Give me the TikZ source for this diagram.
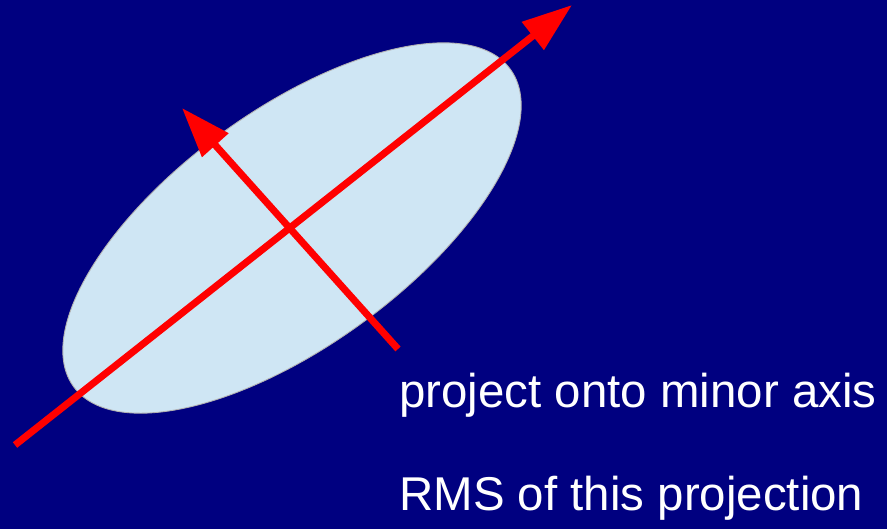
\documentclass[tikz,border=0pt]{standalone}
\usepackage{fontspec}
\setmainfont{Liberation Sans}
\usepackage{xcolor}
\usetikzlibrary{arrows.meta,shapes.geometric}
\definecolor{navybg}{HTML}{000080}
\definecolor{cloudfill}{HTML}{CFE6F4}
\definecolor{axisred}{HTML}{FF0000}

\begin{document}
\begin{tikzpicture}[
  x=0.02cm, y=-0.02cm,
  blob/.style={ellipse, draw=gray!60, fill=cloudfill, line width=0.5pt, minimum width=10.8cm, minimum height=4.72cm, inner sep=0pt},
  axisarr/.style={-{Triangle[length=1cm, width=0.68cm]}, axisred, line width=4pt},
  caption/.style={anchor=base west, inner sep=0pt, text=white, font=\fontsize{27}{32}\selectfont}
]
\fill[navybg] (0,0) rectangle (887,529);
\useasboundingbox (0,0) rectangle (887,529);

\node[blob, rotate=36] (cloud) at (292,228) {};

\coordinate (majtail) at (15,445);
\coordinate (majtip) at (572,5);
\coordinate (mintail) at (398,349);
\coordinate (mintip) at (182,108);

\draw[axisarr] (mintail) -- (mintip);
\draw[axisarr] (majtail) -- (majtip);

\node[caption] (proj) at (399,407) {project onto minor axis};
\node[caption] (rms) at (399,510) {RMS of this projection};
\end{tikzpicture}
\end{document}
